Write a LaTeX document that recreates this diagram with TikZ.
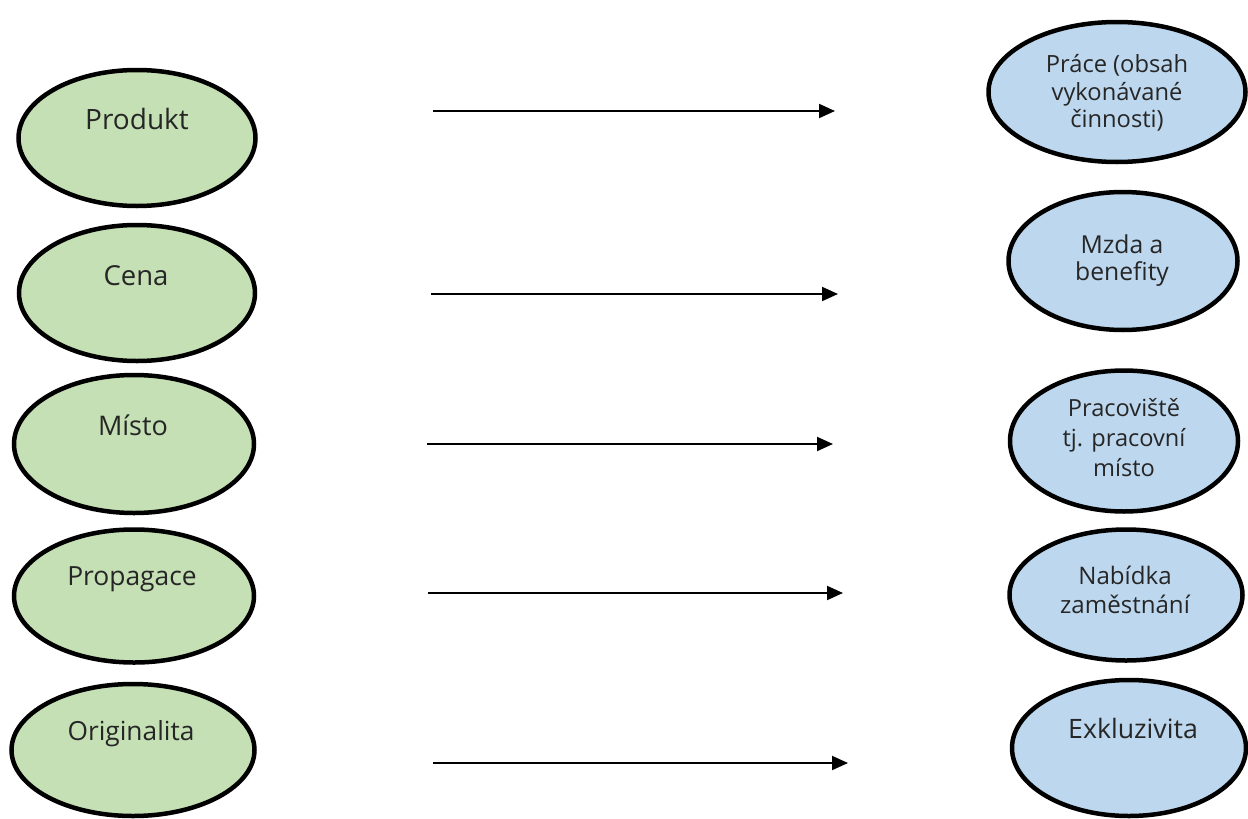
\documentclass[tikz,border=0pt]{standalone}
\usepackage{fontspec}
\setmainfont{Open Sans}
\usetikzlibrary{shapes.geometric,arrows.meta}
\definecolor{mixgreen}{HTML}{C5E0B4}
\definecolor{hrblue}{HTML}{BDD7EE}
\definecolor{inktext}{HTML}{262626}
\tikzset{
  oval/.style={ellipse, draw=black, line width=4.5pt, inner sep=0pt},
  mixoval/.style={oval, fill=mixgreen},
  hroval/.style={oval, fill=hrblue},
  caption/.style={text=inktext, inner sep=0pt, align=center},
  link/.style={line width=2pt, -{Triangle[length=16pt,width=14pt]}}
}
\begin{document}
\begin{tikzpicture}[x=1pt, y=-1pt]
  \useasboundingbox (0,0) rectangle (1248,819);

  % marketing mix (left column)
  \node[mixoval, minimum width=237pt, minimum height=136pt] (produkt) at (137,138) {};
  \node[mixoval, minimum width=236pt, minimum height=136pt] (cena) at (137,293) {};
  \node[mixoval, minimum width=240pt, minimum height=138pt] (misto) at (134,444) {};
  \node[mixoval, minimum width=240pt, minimum height=133pt] (propagace) at (134,596) {};
  \node[mixoval, minimum width=243pt, minimum height=132pt] (originalita) at (133,750) {};

  \node[caption, anchor=base, font=\fontsize{28}{32}\selectfont] (tprodukt) at (137,129) {Produkt};
  \node[caption, anchor=base, font=\fontsize{27.5}{32}\selectfont] (tcena) at (136,285) {Cena};
  \node[caption, anchor=base, font=\fontsize{27}{32}\selectfont] (tmisto) at (133,435) {Místo};
  \node[caption, anchor=base, font=\fontsize{26.4}{32}\selectfont] (tpropagace) at (132,585) {Propagace};
  \node[caption, anchor=base, font=\fontsize{26.3}{32}\selectfont] (toriginalita) at (131,740) {Originalita};

  % personnel marketing (right column)
  \node[hroval, minimum width=257pt, minimum height=140pt] (prace) at (1117,92) {};
  \node[hroval, minimum width=229pt, minimum height=138pt] (mzda) at (1123,261) {};
  \node[hroval, minimum width=228pt, minimum height=141pt] (pracoviste) at (1124,441) {};
  \node[hroval, minimum width=233pt, minimum height=131pt] (nabidka) at (1126,595) {};
  \node[hroval, minimum width=234pt, minimum height=136pt] (exkluzivita) at (1129,748) {};

  \node[caption, font=\fontsize{23.7}{27.5}\selectfont] (tprace) at (1117,93) {Práce (obsah\\vykonávané\\činnosti)};
  \node[caption, font=\fontsize{24.7}{27}\selectfont] (tmzda) at (1122,261) {Mzda a\\benefity};
  \node[caption, font=\fontsize{23.6}{30}\selectfont] (tpracoviste) at (1124,438) {Pracoviště\\tj. pracovní\\místo};
  \node[caption, font=\fontsize{24.1}{29}\selectfont] (tnabidka) at (1125,590) {Nabídka\\zaměstnání};
  \node[caption, anchor=base, font=\fontsize{26.7}{32}\selectfont] (texkluzivita) at (1133,738) {Exkluzivita};

  % arrow end points
  \coordinate (a1s) at (433,111); \coordinate (a1e) at (835,111);
  \coordinate (a2s) at (431,294); \coordinate (a2e) at (838,294);
  \coordinate (a3s) at (427,444); \coordinate (a3e) at (833,444);
  \coordinate (a4s) at (428,593); \coordinate (a4e) at (843,593);
  \coordinate (a5s) at (433,763); \coordinate (a5e) at (848,763);

  \draw[link] (a1s) -- (a1e);
  \draw[link] (a2s) -- (a2e);
  \draw[link] (a3s) -- (a3e);
  \draw[link] (a4s) -- (a4e);
  \draw[link] (a5s) -- (a5e);
\end{tikzpicture}
\end{document}
